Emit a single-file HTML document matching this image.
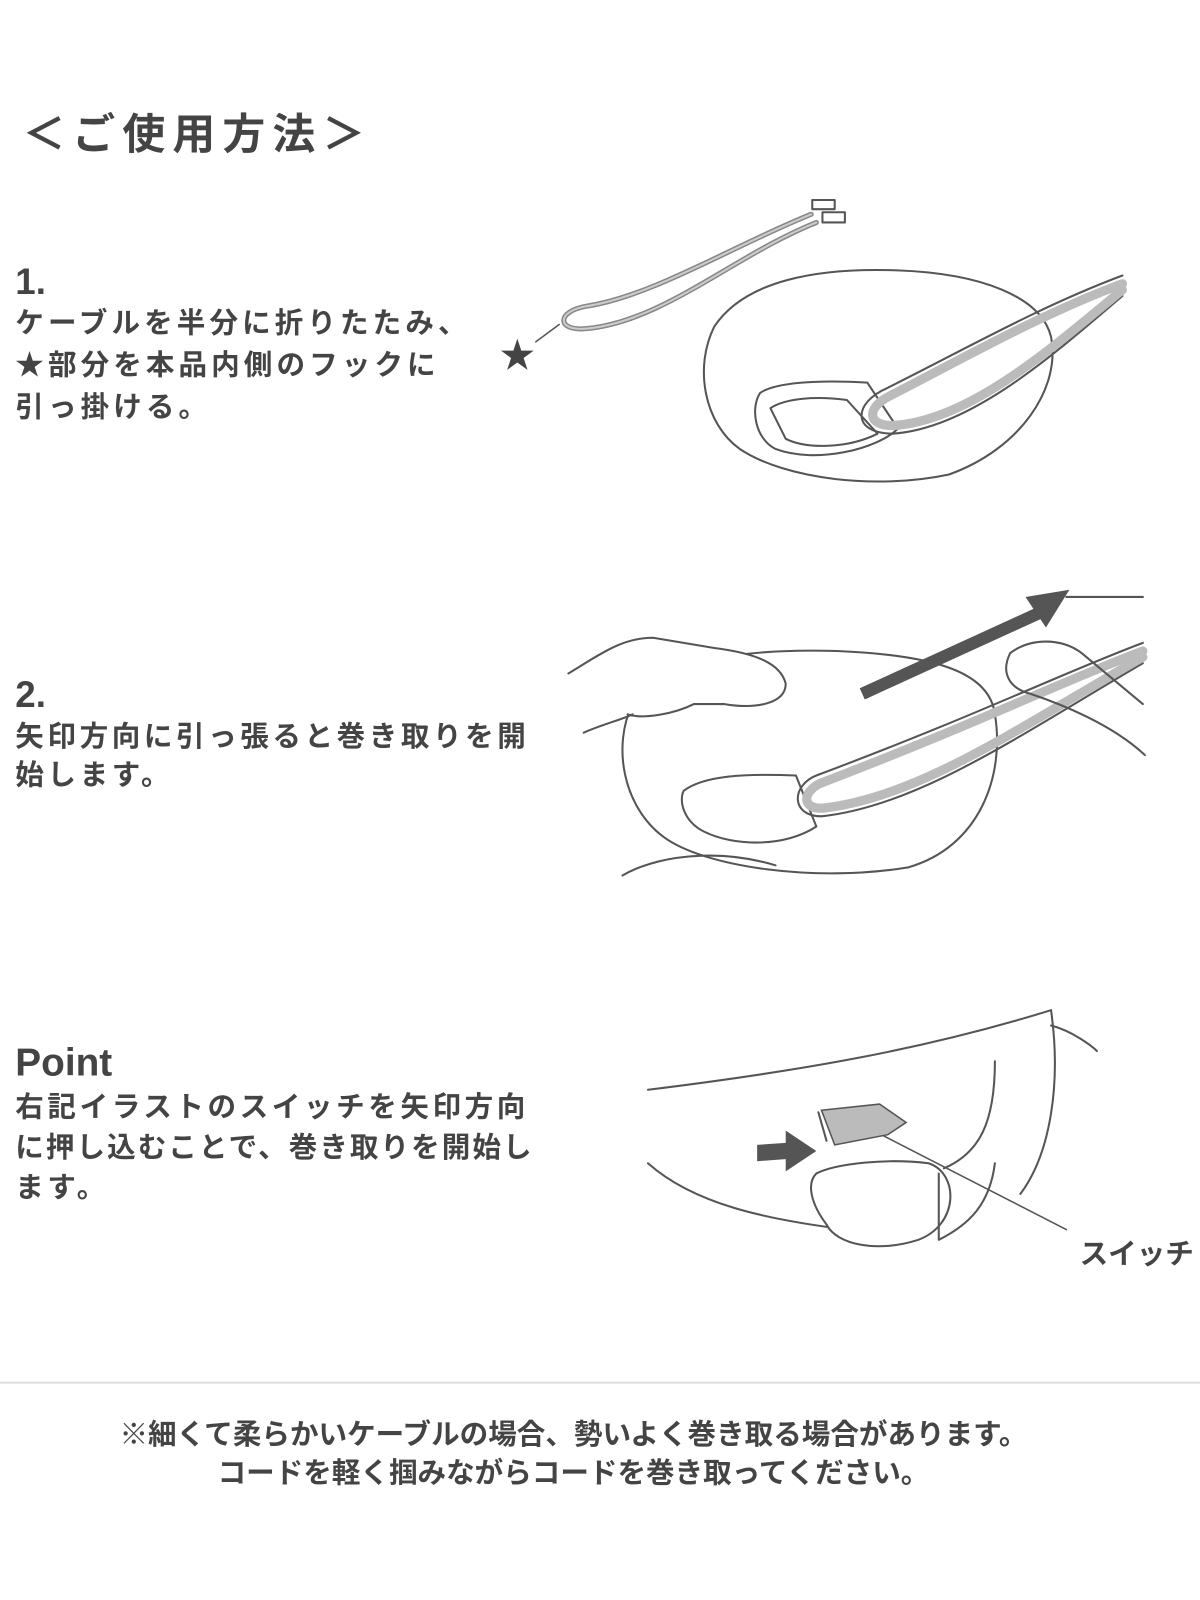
<!DOCTYPE html>
<html><head><meta charset="utf-8"><style>
html,body{margin:0;padding:0;background:#fff;}
svg{display:block}
text{font-family:"Liberation Sans","Noto Sans CJK JP",sans-serif;fill:#444;font-weight:bold}
</style></head><body>
<svg width="1200" height="1600" viewBox="0 0 1176 1568" xmlns="http://www.w3.org/2000/svg">
<text x="22" y="146" font-size="42" letter-spacing="7">＜ご使用方法＞</text>

<text x="15" y="288" font-size="36">1.</text>
<text x="15" y="326" font-size="28" letter-spacing="4">ケーブルを半分に折りたたみ、</text>
<text x="15" y="367" font-size="28" letter-spacing="4">★部分を本品内側のフックに</text>
<text x="15" y="408" font-size="28" letter-spacing="4">引っ掛ける。</text>

<text x="15" y="693" font-size="36">2.</text>
<text x="15" y="731" font-size="28" letter-spacing="3.5">矢印方向に引っ張ると巻き取りを開</text>
<text x="15" y="769" font-size="28" letter-spacing="3.5">始します。</text>

<text x="15" y="1054" font-size="38">Point</text>
<text x="15" y="1094" font-size="28" letter-spacing="3.5">右記イラストのスイッチを矢印方向</text>
<text x="15" y="1134" font-size="28" letter-spacing="2">に押し込むことで、巻き取りを開始し</text>
<text x="15" y="1173" font-size="28" letter-spacing="3.5">ます。</text>

<line x1="0" y1="1355" x2="1176" y2="1355" stroke="#ddd" stroke-width="2"/>
<text x="562" y="1415" font-size="28" text-anchor="middle">※細くて柔らかいケーブルの場合、勢いよく巻き取る場合があります。</text>
<text x="562" y="1453" font-size="28" text-anchor="middle">コードを軽く掴みながらコードを巻き取ってください。</text>

<g fill="none" stroke="#555" stroke-width="2" stroke-linecap="round" stroke-linejoin="round">
<path d="M795,210 C720,240 640,290 575,300 C545,305 545,325 575,322 C650,315 720,250 800,218" stroke="#888" stroke-width="5"/>
<path d="M795,210 C720,240 640,290 575,300 C545,305 545,325 575,322 C650,315 720,250 800,218" stroke="#ccc" stroke-width="2"/>
<rect x="796" y="196" width="22" height="9" fill="#fff"/>
<rect x="806" y="208" width="22" height="10" fill="#fff"/>
<line x1="548" y1="318" x2="525" y2="335" stroke-width="1.5"/>
<path d="M700,320 C730,275 800,262 880,265 C960,268 1020,290 1030,330 C1040,380 1000,440 930,465 C860,480 770,470 725,440 C690,415 680,360 700,320 Z" fill="#fff"/>
<path d="M745,385 C760,375 800,372 850,375 L880,420 C860,440 800,455 760,440 C740,430 735,400 745,385 Z"/>
<path d="M755,400 C770,390 800,388 830,392 L860,425 C830,440 790,440 770,430 Z"/>
<path d="M1100,270 C1020,300 950,340 870,380 C835,395 835,425 875,425 C950,420 1030,350 1100,290" stroke="#555" stroke-width="2" fill="none"/>
<path d="M1100,278 C1020,308 950,348 872,388 C848,400 850,418 876,417 C950,412 1030,342 1100,284" stroke="#bbb" stroke-width="9"/>
<text x="490" y="360" font-size="34" stroke="none" style="fill:#444">★</text>
<path d="M620,690 C640,650 720,635 820,638 C920,642 970,660 975,700 C985,760 960,830 890,850 C800,865 690,850 650,820 C610,790 600,730 620,690 Z" fill="#fff"/>
<path d="M670,775 C690,760 730,758 780,760 L800,810 C770,830 720,830 690,815 C670,805 665,785 670,775 Z"/>
<path d="M1120,630 C1040,660 960,700 800,760 C775,770 775,800 805,800 C900,790 1000,720 1120,650" stroke="#555" stroke-width="2"/>
<path d="M1120,638 C1040,668 960,708 803,768 C785,778 787,793 806,792 C900,782 1000,712 1120,644" stroke="#bbb" stroke-width="9"/>
<path d="M557,660 C590,640 610,625 640,625 L700,635 C740,640 765,650 770,670 C770,690 740,695 710,690 L680,690 C660,700 630,705 615,700" fill="#fff"/>
<path d="M572,718 C590,710 610,705 620,700"/>
<path d="M610,858 C640,840 700,830 760,848"/>
<path d="M990,640 C1010,625 1040,625 1060,640 L1120,690 M990,640 C980,660 990,675 1010,680 C1040,690 1090,710 1122,740"/>
<path d="M1045,585 L1120,585"/>
</g>
<path d="M845,680 L1020,600" stroke="#555" stroke-width="12"/>
<polygon points="1048,578 1005,585 1025,615" fill="#555"/>
<g fill="none" stroke="#555" stroke-width="2" stroke-linecap="round" stroke-linejoin="round">
<path d="M635,1068 C780,1050 900,1030 1030,990"/>
<path d="M1030,990 C1040,1060 1030,1130 1000,1170"/>
<path d="M1030,1005 C1050,1010 1070,1025 1075,1030"/>
<path d="M635,1140 C680,1180 750,1195 830,1205"/>
<path d="M800,1150 C820,1140 870,1135 910,1140 C940,1150 940,1200 900,1215 C860,1228 820,1220 810,1200 C795,1180 790,1160 800,1150 Z" fill="#fff"/>
<path d="M925,1145 C960,1130 975,1100 975,1040"/>
<path d="M920,1150 L920,1215 C950,1200 970,1180 975,1140"/>
<path d="M802,1090 L810,1118"/>
<path d="M850,1105 L1045,1205" stroke-width="1.5"/>
</g>
<polygon points="805,1088 862,1082 888,1100 870,1112 818,1122" fill="#bbb" stroke="#555" stroke-width="1.5"/>
<polygon points="742,1122 770,1120 770,1108 800,1128 770,1148 770,1136 742,1138" fill="#555"/>
<text x="1058" y="1238" font-size="28">スイッチ</text>
</svg>
</body></html>
